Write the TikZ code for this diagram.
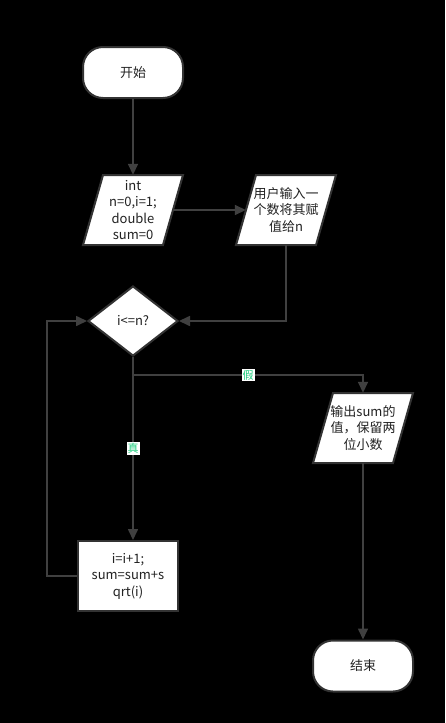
\documentclass[tikz,border=0pt]{standalone}
\usepackage{fontspec}
\setmainfont{Noto Sans CJK SC}
\usetikzlibrary{shapes.geometric,arrows.meta}
\definecolor{linec}{HTML}{404040}
\definecolor{borderc}{HTML}{333333}
\definecolor{textc}{HTML}{222222}
\definecolor{labelc}{RGB}{30,205,125}
\tikzset{
  conn/.style={draw=linec, line width=1.6pt},
  arr/.style={conn, -{Triangle[length=11pt,width=10pt]}},
  shapeline/.style={draw=borderc, fill=white, line width=2pt},
  txt/.style={text=textc, font=\fontsize{13}{16.5}\selectfont, align=center},
  terminal/.style={shapeline, txt, rectangle, rounded corners=20pt, minimum width=100pt, minimum height=51pt, inner sep=0pt},
  procbox/.style={shapeline, txt, rectangle, minimum width=100pt, minimum height=70pt, inner sep=0pt},
  decision/.style={shapeline, txt, diamond, minimum width=90pt, minimum height=70pt, inner sep=0pt},
  parab/.style={txt, rectangle, minimum width=80pt, minimum height=70pt, inner sep=0pt},
  lbl/.style={fill=white, text=labelc, font=\fontsize{11}{12}\selectfont, inner sep=1pt}
}
\newcommand\paranode[4]{%
  \path[shapeline] ({#2-30},{#3-35}) -- ({#2+50},{#3-35}) -- ({#2+30},{#3+35}) -- ({#2-50},{#3+35}) -- cycle;
  \node[parab] (#1) at (#2,#3) {#4};}
\begin{document}
\begin{tikzpicture}[x=1pt,y=-1pt]
\fill[black] (0,0) rectangle (445,723);
\useasboundingbox (0,0) rectangle (445,723);
\node[terminal] (start) at (133,72.5) {开始};
\paranode{init}{133}{210}{int\\n=0,i=1;\\double\\sum=0}
\paranode{input}{286}{210}{用户输入一\\个数将其赋\\值给n}
\node[decision] (cond) at (133,321) {i<=n?};
\node[procbox] (body) at (128,576) {i=i+1;\\sum=sum+s\\qrt(i)};
\paranode{output}{363}{428}{输出sum的\\值，保留两\\位小数}
\node[terminal] (stop) at (363,666) {结束};
\coordinate (fj) at (133,375);
\coordinate (lp) at (47,576);
\draw[arr] (start) -- (init);
\draw[arr] (init.east) -- (input.west);
\draw[arr] (input.south) |- (cond.east);
\draw[arr] (cond.south) -- (cond.south |- body.north) node[lbl, pos=0.5] {真};
\draw[arr] (fj) -| (output.north) node[lbl, pos=0.25] {假};
\draw[arr] (output.south) -- (stop.north);
\draw[arr] (body.west) -- (lp) |- (cond.west);
\end{tikzpicture}
\end{document}
